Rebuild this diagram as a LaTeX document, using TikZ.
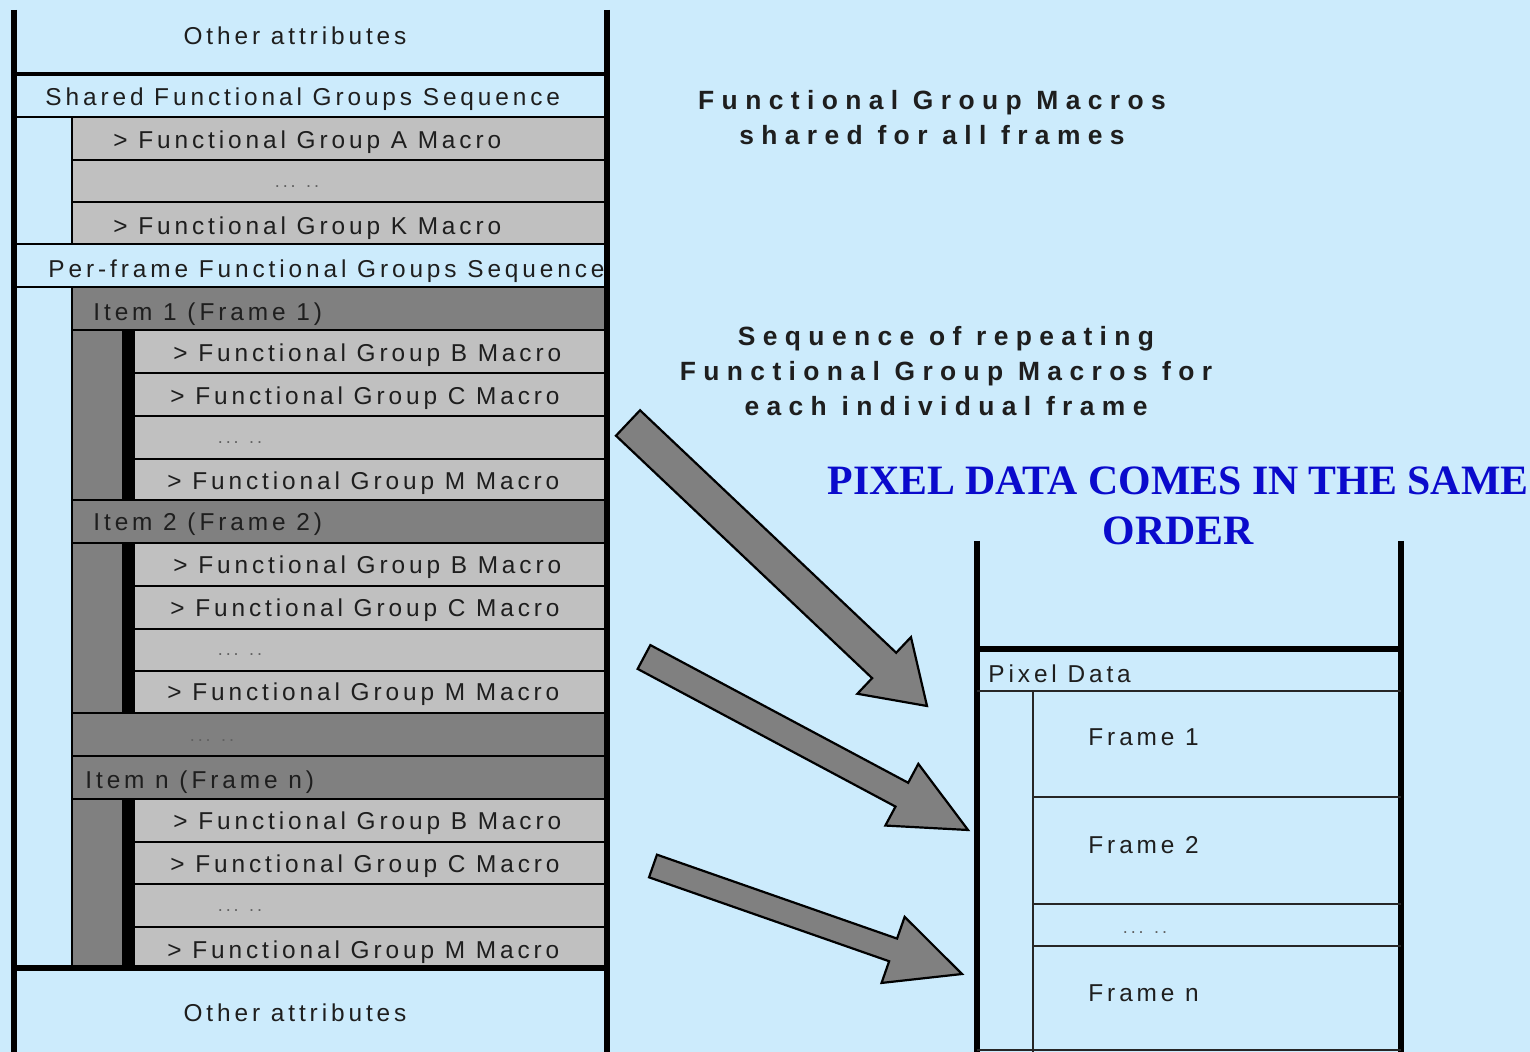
\documentclass[tikz,border=0pt]{standalone}
\usepackage{fontspec}
\setmainfont{Liberation Sans}
\newfontfamily\lsans[LetterSpace=16]{Liberation Sans}
\newfontfamily\bsans[LetterSpace=28]{Liberation Sans}
\newfontfamily\tserif{Liberation Serif}
\usetikzlibrary{calc}
\definecolor{bgblue}{HTML}{CCEBFC}
\definecolor{lgray}{HTML}{C0C0C0}
\definecolor{dgray}{HTML}{808080}
\definecolor{txt}{HTML}{1E1E1E}
\definecolor{titleblue}{HTML}{0A0ACC}
\newcommand{\bkarrow}[5]{%
  \coordinate (#1base) at ($(#2)!#5!(#1)$);
  \draw[blockarrow] ($(#1)!#3!90:(#2)$) -- ($(#1base)!#3!90:(#2)$) -- ($(#1base)!#4!90:(#2)$) -- (#2)
    -- ($(#1base)!#4!-90:(#2)$) -- ($(#1base)!#3!-90:(#2)$) -- ($(#1)!#3!-90:(#2)$) -- cycle;}
\begin{document}
\begin{tikzpicture}[x=0.5pt,y=-0.5pt,
  lbl/.style={inner sep=0pt, yshift=-1pt, text=txt, font=\lsans\fontsize{12.2}{14}\selectfont},
  lblw/.style={lbl, anchor=west},
  dotlbl/.style={inner sep=0pt, text=txt!70, font=\lsans\fontsize{9}{11}\selectfont},
  side/.style={inner sep=0pt, align=center, text=txt, font=\bsans\bfseries\fontsize{13.2}{17.5}\selectfont},
  title/.style={inner sep=0pt, align=center, text=titleblue, font=\tserif\bfseries\fontsize{20.9}{25}\selectfont},
  rule/.style={line width=1.2pt, black},
  thinrule/.style={line width=0.9pt, black!85},
  thickrule/.style={line width=3pt, black},
  blockarrow/.style={fill=dgray, draw=black, line width=1.1pt, line join=miter}
]
\useasboundingbox (0,0) rectangle (1530,1052);
\fill[bgblue] (0,0) rectangle (1530,1052);

% ---------- left structure: fills ----------
\fill[lgray] (72,117) rectangle (607,244);
\fill[dgray] (72,287) rectangle (607,330);
\fill[dgray] (72,330) rectangle (122,500);
\fill[black] (122,330) rectangle (135,500);
\fill[lgray] (135,330) rectangle (607,500);
\fill[dgray] (72,500) rectangle (607,543);
\fill[dgray] (72,543) rectangle (122,713);
\fill[black] (122,543) rectangle (135,713);
\fill[lgray] (135,543) rectangle (607,713);
\fill[dgray] (72,713) rectangle (607,799);
\fill[dgray] (72,799) rectangle (122,967);
\fill[black] (122,799) rectangle (135,967);
\fill[lgray] (135,799) rectangle (607,967);

% ---------- left structure: rules ----------
\draw[thickrule, line width=1.6pt] (14,74) -- (607,74);
\draw[rule] (14,117) -- (607,117);
\draw[rule] (72,160) -- (607,160);
\draw[rule] (72,202) -- (607,202);
\draw[rule] (14,244) -- (607,244);
\draw[rule] (14,287) -- (607,287);
\draw[rule] (72,330) -- (607,330);
\draw[rule] (135,373) -- (607,373);
\draw[rule] (135,416) -- (607,416);
\draw[rule] (135,459) -- (607,459);
\draw[rule] (72,500) -- (607,500);
\draw[rule] (72,543) -- (607,543);
\draw[rule] (135,586) -- (607,586);
\draw[rule] (135,629) -- (607,629);
\draw[rule] (135,671) -- (607,671);
\draw[rule] (72,713) -- (607,713);
\draw[rule] (72,756) -- (607,756);
\draw[rule] (72,799) -- (607,799);
\draw[rule] (135,842) -- (607,842);
\draw[rule] (135,884) -- (607,884);
\draw[rule] (135,927) -- (607,927);
\draw[rule] (72,117) -- (72,244);
\draw[rule] (72,287) -- (72,967);
\draw[thickrule] (14,968) -- (607,968);
\draw[thickrule] (14,10) -- (14,1052);
\draw[thickrule] (607,10) -- (607,1052);

% ---------- left structure: texts ----------
\node[lbl]  (oa1)  at (295,34)  {Other attributes};
\node[lblw] (sfgs) at (45,97)   {Shared Functional Groups Sequence};
\node[lblw] (fga)  at (113,140) {> Functional Group A Macro};
\node[dotlbl] (sd) at (297,187) {... ..};
\node[lblw] (fgk)  at (113,226) {> Functional Group K Macro};
\node[lblw] (pfgs) at (48,269)  {Per-frame Functional Groups Sequence};
\node[lblw] (it1)  at (93,312)  {Item 1 (Frame 1)};
\node[lblw] (b1)   at (173,353) {> Functional Group B Macro};
\node[lblw] (c1)   at (170,396) {> Functional Group C Macro};
\node[dotlbl] (d1) at (240,443) {... ..};
\node[lblw] (m1)   at (167,481) {> Functional Group M Macro};
\node[lblw] (it2)  at (93,522)  {Item 2 (Frame 2)};
\node[lblw] (b2)   at (173,565) {> Functional Group B Macro};
\node[lblw] (c2)   at (170,608) {> Functional Group C Macro};
\node[dotlbl] (d2) at (240,655) {... ..};
\node[lblw] (m2)   at (167,692) {> Functional Group M Macro};
\node[dotlbl] (di) at (212,741) {... ..};
\node[lblw] (itn)  at (85,780)  {Item n (Frame n)};
\node[lblw] (bn)   at (173,821) {> Functional Group B Macro};
\node[lblw] (cn)   at (170,864) {> Functional Group C Macro};
\node[dotlbl] (dn) at (240,911) {... ..};
\node[lblw] (mn)   at (167,950) {> Functional Group M Macro};
\node[lbl]  (oa2)  at (295,1011) {Other attributes};

% ---------- side texts ----------
\node[side] (shared) at (932,118) {Functional Group Macros\\shared for all frames};
\node[side] (repeat) at (946,371) {Sequence of repeating\\Functional Group Macros for\\each individual frame};
\node[title] (ttl) at (1178,506) {PIXEL DATA COMES IN THE SAME\\ORDER};

% ---------- right structure ----------
\draw[thickrule] (977,541) -- (977,1052);
\draw[thickrule] (1401,541) -- (1401,1052);
\draw[thickrule, line width=2.5pt] (977,649) -- (1401,649);
\draw[thinrule] (977,691) -- (1401,691);
\draw[thinrule] (1033,691) -- (1033,1052);
\draw[thinrule] (1033,797) -- (1401,797);
\draw[thinrule] (1033,904) -- (1401,904);
\draw[thinrule] (1033,946) -- (1401,946);
\draw[thinrule] (977,1050) -- (1401,1050);
\node[lblw] (pd) at (988,672)  {Pixel Data};
\node[lblw] (f1) at (1088,735) {Frame 1};
\node[lblw] (f2) at (1088,843) {Frame 2};
\node[dotlbl] (fd) at (1145,933) {... ..};
\node[lblw] (fn) at (1088,991) {Frame n};

% ---------- block arrows ----------
\coordinate (aT) at (628,423);
\coordinate (aH) at (927,706);
\coordinate (bT) at (644,657);
\coordinate (bH) at (968,830);
\coordinate (cT) at (653,866);
\coordinate (cH) at (962,974);
\bkarrow{aT}{aH}{8.75pt}{19.5pt}{29.5pt}
\bkarrow{bT}{bH}{6.75pt}{17.5pt}{37.5pt}
\bkarrow{cT}{cH}{6pt}{17.5pt}{36.5pt}
\end{tikzpicture}
\end{document}
